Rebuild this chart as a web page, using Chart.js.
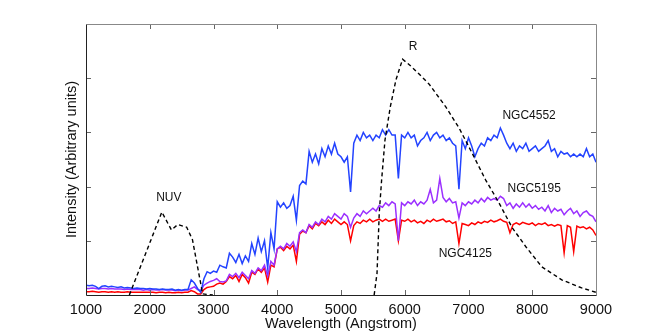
<!DOCTYPE html>
<html>
<head>
<meta charset="utf-8">
<script src="https://cdn.jsdelivr.net/npm/chart.js@4"></script>
<style>
  html, body { margin: 0; padding: 0; background: #fff; overflow: hidden; }
  #wrap { width: 658px; height: 335px; position: relative; }
</style>
</head>
<body>
<div id="wrap"><canvas id="c"></canvas></div>
<script>
// Wavelength grid (Angstrom) shared by the three galaxy spectra
const wavelengths = [
  1000,1050,1100,1150,1200,1250,1300,1350,1400,1450,
  1500,1550,1600,1650,1700,1750,1800,1850,1900,1950,
  2000,2050,2100,2150,2200,2250,2300,2350,2400,2450,
  2500,2550,2600,2650,2700,2750,2800,2850,2900,2950,
  3000,3050,3100,3150,3200,3250,3300,3350,3400,3450,
  3500,3550,3600,3650,3700,3750,3800,3850,3900,3950,
  4000,4050,4100,4150,4200,4250,4300,4350,4400,4450,
  4500,4550,4600,4650,4700,4750,4800,4850,4900,4950,
  5000,5050,5100,5150,5200,5250,5300,5350,5400,5450,
  5500,5550,5600,5650,5700,5750,5800,5850,5900,5950,
  6000,6050,6100,6150,6200,6250,6300,6350,6400,6450,
  6500,6550,6600,6650,6700,6750,6800,6850,6900,6950,
  7000,7050,7100,7150,7200,7250,7300,7350,7400,7450,
  7500,7550,7600,7650,7700,7750,7800,7850,7900,7950,
  8000,8050,8100,8150,8200,8250,8300,8350,8400,8450,
  8500,8550,8600,8650,8700,8750,8800,8850,8900,8950,
  9000
];

const ngc4552 = [
  0.18,0.17,0.18,0.16,0.12,0.16,0.17,0.15,0.16,0.15,
  0.14,0.15,0.13,0.14,0.13,0.12,0.13,0.12,0.12,0.11,
  0.12,0.11,0.11,0.10,0.11,0.10,0.10,0.11,0.09,0.10,
  0.09,0.10,0.10,0.28,0.22,0.12,0.05,0.30,0.43,0.40,
  0.44,0.42,0.55,0.52,0.50,0.77,0.70,0.60,0.75,0.58,
  0.72,0.62,0.95,0.75,1.05,0.80,1.00,0.50,1.15,0.85,
  1.72,1.62,1.70,1.60,1.65,1.82,1.38,2.02,2.10,2.05,
  2.65,2.45,2.60,2.42,2.70,2.55,2.75,2.60,2.80,2.60,
  2.55,2.45,2.55,1.90,2.80,2.95,2.85,3.00,2.90,2.95,
  2.85,2.95,2.90,3.05,2.95,3.05,2.95,2.95,2.15,2.95,
  2.90,3.00,2.90,2.95,2.75,2.85,2.90,3.00,2.85,2.95,
  3.00,2.90,2.95,2.85,2.90,2.80,2.75,1.95,2.85,2.70,
  2.90,2.75,2.55,2.70,2.80,2.75,2.90,2.85,2.95,2.90,
  3.08,2.95,2.80,2.70,2.80,2.65,2.75,2.70,2.80,2.65,
  2.70,2.75,2.65,2.70,2.75,2.85,2.65,2.70,2.55,2.65,
  2.60,2.62,2.55,2.60,2.55,2.60,2.55,2.70,2.55,2.60,
  2.45
];

const ngc5195 = [
  0.12,0.12,0.13,0.12,0.11,0.12,0.12,0.11,0.12,0.11,
  0.11,0.11,0.10,0.11,0.10,0.10,0.10,0.10,0.09,0.10,
  0.09,0.10,0.09,0.09,0.10,0.09,0.09,0.09,0.08,0.09,
  0.08,0.09,0.09,0.12,0.15,0.10,0.08,0.18,0.22,0.25,
  0.27,0.30,0.25,0.24,0.26,0.38,0.34,0.40,0.32,0.42,
  0.36,0.30,0.45,0.40,0.50,0.45,0.55,0.35,0.62,0.55,
  0.85,0.90,0.85,0.95,0.90,0.98,0.80,1.15,1.20,1.15,
  1.30,1.25,1.35,1.30,1.40,1.35,1.45,1.40,1.50,1.45,
  1.40,1.50,1.45,1.25,1.42,1.50,1.45,1.55,1.50,1.55,
  1.60,1.55,1.65,1.62,1.70,1.65,1.72,1.68,1.00,1.70,
  1.65,1.72,1.68,1.75,1.65,1.72,1.68,1.75,1.95,1.70,
  1.75,2.15,1.80,1.72,1.78,1.70,1.72,1.42,1.70,1.65,
  1.72,1.68,1.75,1.70,1.78,1.72,1.80,1.75,1.78,1.75,
  1.82,1.78,1.65,1.70,1.60,1.68,1.62,1.70,1.62,1.68,
  1.60,1.65,1.58,1.62,1.55,1.65,1.52,1.60,1.55,1.58,
  1.48,1.55,1.60,1.50,1.55,1.45,1.52,1.55,1.48,1.45,
  1.35
];

const ngc4125 = [
  0.06,0.06,0.07,0.06,0.05,0.06,0.06,0.05,0.06,0.05,
  0.06,0.05,0.05,0.06,0.05,0.05,0.05,0.05,0.05,0.05,
  0.05,0.05,0.04,0.05,0.05,0.04,0.05,0.04,0.04,0.05,
  0.04,0.05,0.05,0.08,0.06,0.02,0.02,0.10,0.14,0.15,
  0.16,0.20,0.22,0.20,0.25,0.34,0.30,0.36,0.25,0.38,
  0.32,0.22,0.42,0.38,0.48,0.42,0.50,0.24,0.55,0.52,
  0.85,0.88,0.82,0.90,0.85,0.92,0.62,1.12,1.18,1.15,
  1.28,1.22,1.32,1.28,1.35,1.30,1.38,1.32,1.40,1.35,
  1.30,1.35,1.30,1.00,1.28,1.35,1.32,1.38,1.35,1.40,
  1.35,1.38,1.40,1.36,1.40,1.36,1.38,1.40,1.00,1.38,
  1.36,1.40,1.35,1.38,1.33,1.36,1.32,1.38,1.35,1.40,
  1.36,1.38,1.40,1.35,1.37,1.32,1.35,0.95,1.32,1.30,
  1.28,1.33,1.30,1.35,1.32,1.36,1.34,1.38,1.35,1.37,
  1.40,1.36,1.34,1.15,1.30,1.33,1.30,1.34,1.32,1.30,
  1.33,1.28,1.32,1.30,1.33,1.28,1.30,1.27,1.30,1.28,
  0.78,1.28,1.25,0.80,1.27,1.24,1.26,1.22,1.25,1.20,
  1.10
];

// NUV filter response
const nuvWave = [1680, 2190, 2340, 2440, 2580, 2670, 2750, 2830, 2990];
const nuvVal  = [0.00, 1.53, 1.20, 1.30, 1.25, 1.02, 0.52, 0.02, 0.00];

// R filter response
const rWave = [5520, 5565, 5600, 5637, 5690, 5773, 5862, 5966, 6080, 6196, 6383, 6644, 6853, 7056, 7270, 7478, 7681, 7900, 8150, 8463, 8775, 9000];
const rVal  = [0.00, 0.40, 1.51, 2.12, 2.86, 3.47, 3.97, 4.35, 4.24, 4.11, 3.89, 3.47, 3.08, 2.62, 2.12, 1.70, 1.25, 0.89, 0.52, 0.28, 0.13, 0.05];

const xTicks = [1000, 2000, 3000, 4000, 5000, 6000, 7000, 8000, 9000];
const yTicks = [1, 2, 3, 4];

const annotations = [
  { text: 'NUV',     x: 2300, y: 1.79 },
  { text: 'R',       x: 6130, y: 4.58 },
  { text: 'NGC4552', x: 7950, y: 3.30 },
  { text: 'NGC5195', x: 8030, y: 1.97 },
  { text: 'NGC4125', x: 6950, y: 0.76 }
];

const FONT = '"Liberation Sans", Arial, Helvetica, sans-serif';

const boxPlugin = {
  id: 'boxTicks',
  afterDatasetsDraw(chart) {
    const { ctx, chartArea: a, scales: { x, y } } = chart;
    ctx.save();
    ctx.lineWidth = 1;
    // inward ticks
    ctx.strokeStyle = '#666';
    const L = 5;
    xTicks.forEach(v => {
      const px = Math.round(x.getPixelForValue(v)) + 0.5;
      if (v === 1000 || v === 9000) return;
      ctx.beginPath();
      ctx.moveTo(px, a.bottom); ctx.lineTo(px, a.bottom - L);
      ctx.moveTo(px, a.top); ctx.lineTo(px, a.top + L);
      ctx.stroke();
    });
    yTicks.forEach(v => {
      const py = Math.round(y.getPixelForValue(v)) + 0.5;
      ctx.beginPath();
      ctx.moveTo(a.left, py); ctx.lineTo(a.left + L, py);
      ctx.moveTo(a.right, py); ctx.lineTo(a.right - L, py);
      ctx.stroke();
    });
    // box
    const l = Math.round(a.left) + 0.5, r = Math.round(a.right) + 0.5;
    const t = Math.round(a.top) + 0.5, b = Math.round(a.bottom) + 0.5;
    ctx.strokeStyle = '#888';
    ctx.beginPath();
    ctx.moveTo(l, t); ctx.lineTo(r, t); ctx.lineTo(r, b);
    ctx.stroke();
    ctx.strokeStyle = '#222';
    ctx.beginPath();
    ctx.moveTo(l, t); ctx.lineTo(l, b); ctx.lineTo(r, b);
    ctx.stroke();
    // annotations
    ctx.fillStyle = '#111';
    ctx.font = '12px ' + FONT;
    ctx.textAlign = 'center';
    ctx.textBaseline = 'middle';
    annotations.forEach(an => {
      ctx.fillText(an.text, x.getPixelForValue(an.x), y.getPixelForValue(an.y));
    });
    ctx.restore();
  }
};

const toXY = (xs, ys) => xs.map((v, i) => ({ x: v, y: ys[i] }));

new Chart(document.getElementById('c'), {
  type: 'line',
  data: {
    labels: wavelengths,
    datasets: [
      { label: 'NUV', data: toXY(nuvWave, nuvVal), borderColor: '#000', borderWidth: 1.4, borderDash: [4, 3], order: 0 },
      { label: 'R', data: toXY(rWave, rVal), borderColor: '#000', borderWidth: 1.4, borderDash: [4, 3], order: 0 },
      { label: 'NGC4552', data: ngc4552, borderColor: '#2343ff', borderWidth: 1.5, order: 1 },
      { label: 'NGC5195', data: ngc5195, borderColor: '#9b30ff', borderWidth: 1.5, order: 2 },
      { label: 'NGC4125', data: ngc4125, borderColor: '#ff0000', borderWidth: 1.5, order: 3 }
    ]
  },
  options: {
    responsive: true,
    maintainAspectRatio: false,
    animation: false,
    layout: { padding: { left: 0, right: 62, top: 24, bottom: 0 } },
    elements: { point: { radius: 0 }, line: { tension: 0, fill: false } },
    plugins: { legend: { display: false }, tooltip: { enabled: false } },
    scales: {
      x: {
        type: 'linear',
        min: 1000, max: 9000,
        afterBuildTicks: s => { s.ticks = xTicks.map(v => ({ value: v })); },
        afterFit: s => { s.height = 40; },
        grid: { display: false, drawTicks: false },
        border: { display: false },
        ticks: { color: '#111', padding: 6, font: { family: FONT, size: 14.5 }, callback: v => String(v), maxRotation: 0, autoSkip: false },
        title: { display: true, text: 'Wavelength (Angstrom)', color: '#111', font: { family: FONT, size: 14.5 }, padding: { top: 0, bottom: 2 } }
      },
      y: {
        type: 'linear',
        min: 0, max: 5,
        afterBuildTicks: s => { s.ticks = yTicks.map(v => ({ value: v })); },
        afterFit: s => { s.width = 86; },
        grid: { display: false, drawTicks: false },
        border: { display: false },
        ticks: { display: false },
        title: { display: true, text: 'Intensity (Arbitrary units)', color: '#111', font: { family: FONT, size: 14.5 }, padding: { top: 63, bottom: 0 } }
      }
    }
  },
  plugins: [boxPlugin]
});
</script>
</body>
</html>
